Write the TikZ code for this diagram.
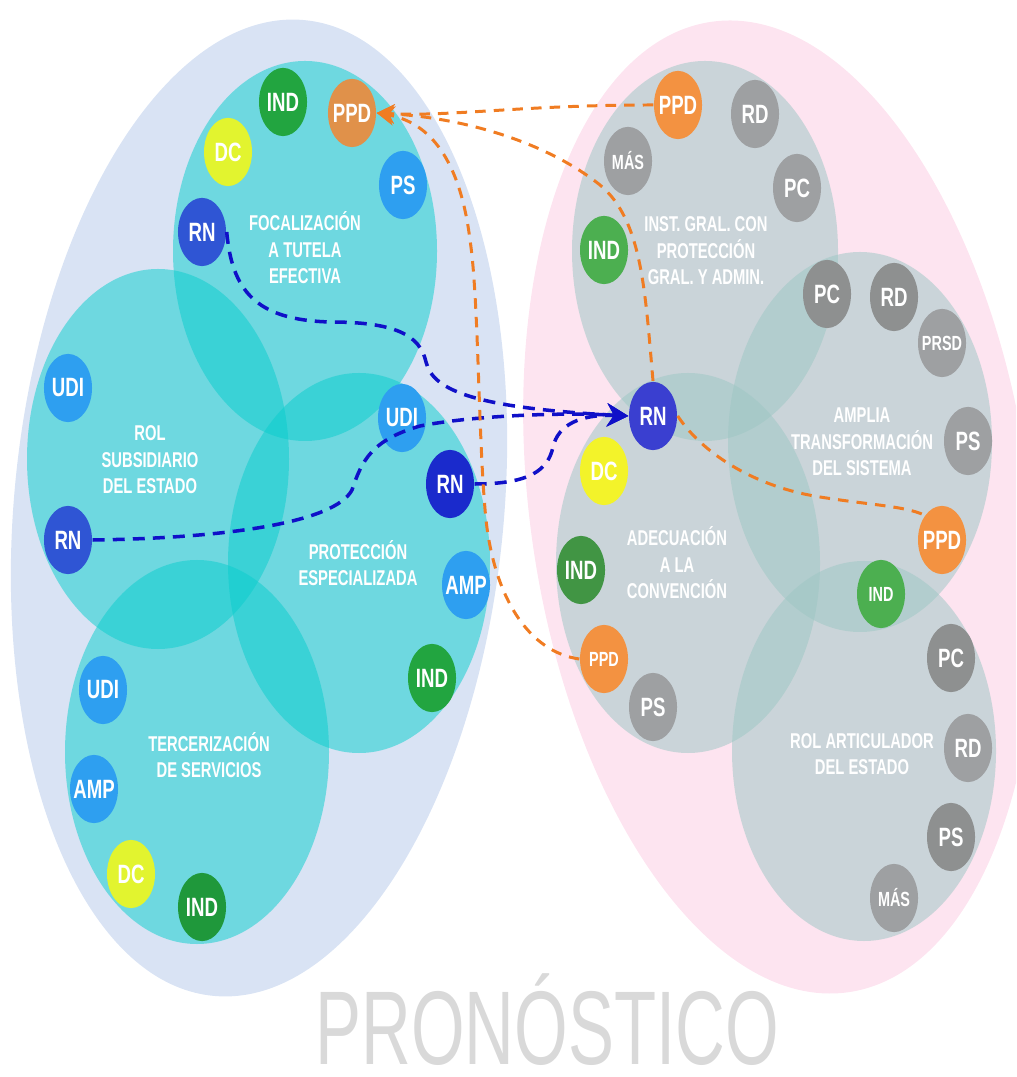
\documentclass[tikz,border=0pt]{standalone}
\usepackage{fontspec}
\setmainfont{Liberation Sans}
\usetikzlibrary{arrows.meta}

\definecolor{bgleft}{HTML}{D9E3F4}
\definecolor{bgright}{HTML}{FDE4F0}
\definecolor{setcyan}{RGB}{9,206,205}
\definecolor{setgray}{RGB}{157,199,196}
\definecolor{greenL}{HTML}{22A540}
\definecolor{greenR}{HTML}{4CAF50}
\definecolor{ppdL}{HTML}{E0914A}
\definecolor{ppdR}{HTML}{F39241}
\definecolor{dcL}{HTML}{E2F42F}
\definecolor{dcR}{HTML}{F3F32A}
\definecolor{udiblue}{HTML}{2E9FF0}
\definecolor{rnL}{HTML}{2F55D4}
\definecolor{rnP}{HTML}{1A2ACC}
\definecolor{rnC}{HTML}{3A3FD0}
\definecolor{grayD}{HTML}{8E9090}
\definecolor{grayL}{HTML}{9EA0A2}
\definecolor{linkblue}{HTML}{1010C8}
\definecolor{linkorange}{HTML}{F07C22}

\begin{document}
\begin{tikzpicture}[x=0.01cm, y=-0.01cm,
        cyanset/.style={fill=setcyan, fill opacity=0.51},
        grayset/.style={fill=setgray, fill opacity=0.52},
        dot/.style={circle, minimum size=0.48cm, inner sep=0pt, text=white,
                font=\fontsize{5.3}{6}\selectfont\bfseries, yscale=1.42},
        smalldot/.style={dot, font=\fontsize{4.1}{5}\selectfont\bfseries},
        setlabel/.style={text=white, align=center,
                font=\fontsize{4.2}{5.2}\selectfont\bfseries, yscale=1.45},
        bluelink/.style={draw=linkblue, line width=1pt, dash pattern=on 3.4pt off 2.3pt,
                -{Stealth[length=6pt,width=6.5pt]}},
        orangelink/.style={draw=linkorange, line width=0.85pt, dash pattern=on 3pt off 2.3pt}]
        \clip (0,0) rectangle (1016,1077);

        \fill[bgleft, rotate around={-5.3:(259,508)}] (259,508) ellipse [x radius=245, y radius=490];
        \fill[bgright, rotate around={8:(780,507)}] (780,507) ellipse [x radius=250, y radius=490];

        \fill[cyanset] (305,251) ellipse [x radius=132, y radius=190];
        \fill[cyanset] (158,459) ellipse [x radius=131, y radius=190];
        \fill[cyanset] (359,563) ellipse [x radius=131, y radius=190];
        \fill[cyanset] (197,752) ellipse [x radius=132, y radius=192];

        \fill[grayset] (705,251) ellipse [x radius=133, y radius=190];
        \fill[grayset] (860,442) ellipse [x radius=132, y radius=190];
        \fill[grayset] (688,563) ellipse [x radius=132, y radius=190];
        \fill[grayset] (864,751) ellipse [x radius=132, y radius=190];

        \node[setlabel] (focLbl) at (305,248) {FOCALIZACIÓN\\A TUTELA\\EFECTIVA};
        \node[setlabel] (subLbl) at (150,460) {ROL\\SUBSIDIARIO\\DEL ESTADO};
        \node[setlabel] (espLbl) at (358,563) {PROTECCIÓN\\ESPECIALIZADA};
        \node[setlabel] (terLbl) at (209,755) {TERCERIZACIÓN\\DE SERVICIOS};
        \node[setlabel] (instLbl) at (706,251) {INST. GRAL. CON\\PROTECCIÓN\\GRAL. Y ADMIN.};
        \node[setlabel] (ampLbl) at (862,442) {AMPLIA\\TRANSFORMACIÓN\\DEL SISTEMA};
        \node[setlabel] (adeLbl) at (677,563) {ADECUACIÓN\\A LA\\CONVENCIÓN};
        \node[setlabel] (artLbl) at (862,754) {ROL ARTICULADOR\\DEL ESTADO};

        \node[dot, fill=greenL] (indFoc) at (283,102) {IND};
        \node[dot, fill=ppdL] (ppdFoc) at (352,113) {PPD};
        \node[dot, fill=dcL] (dcFoc) at (228,152) {DC};
        \node[dot, fill=udiblue] (psFoc) at (403,185) {PS};
        \node[dot, fill=rnL] (rnFoc) at (202,232) {RN};

        \node[dot, fill=udiblue] (udiSub) at (68,388) {UDI};
        \node[dot, fill=rnL] (rnSub) at (68,540) {RN};

        \node[dot, fill=udiblue] (udiEsp) at (402,418) {UDI};
        \node[dot, fill=rnP] (rnEsp) at (450,484) {RN};
        \node[dot, fill=udiblue] (ampEsp) at (466,585) {AMP};
        \node[dot, fill=greenL] (indEsp) at (432,678) {IND};

        \node[dot, fill=udiblue] (udiTer) at (103,690) {UDI};
        \node[dot, fill=udiblue] (ampTer) at (94,789) {AMP};
        \node[dot, fill=dcL] (dcTer) at (131,874) {DC};
        \node[dot, fill=greenL!92!black] (indTer) at (202,907) {IND};

        \node[dot, fill=ppdR] (ppdInst) at (678,105) {PPD};
        \node[dot, fill=grayL] (rdInst) at (755,114) {RD};
        \node[smalldot, fill=grayL] (masInst) at (628,161) {MÁS};
        \node[dot, fill=grayL] (pcInst) at (797,188) {PC};
        \node[dot, fill=greenR] (indInst) at (604,250) {IND};

        \node[dot, fill=grayD] (pcAmp) at (827,294) {PC};
        \node[dot, fill=grayD] (rdAmp) at (894,297) {RD};
        \node[smalldot, fill=grayL] (prsdAmp) at (942,343) {PRSD};
        \node[dot, fill=grayL] (psAmp) at (968,441) {PS};
        \node[dot, fill=ppdR] (ppdAmp) at (942,540) {PPD};
        \node[smalldot, fill=greenR] (indAmp) at (881,594) {IND};

        \node[dot, fill=rnC] (rnCen) at (653,416) {RN};

        \node[dot, fill=dcR] (dcAde) at (604,471) {DC};
        \node[dot, fill=greenR!85!black] (indAde) at (581,570) {IND};
        \node[smalldot, fill=ppdR] (ppdAde) at (604,659) {PPD};
        \node[dot, fill=grayL] (psAde) at (653,707) {PS};

        \node[dot, fill=grayD] (pcArt) at (951,658) {PC};
        \node[dot, fill=grayL] (rdArt) at (968,748) {RD};
        \node[dot, fill=grayD] (psArt) at (951,837) {PS};
        \node[smalldot, fill=grayL] (masArt) at (894,898) {MÁS};

        \draw[bluelink] (rnFoc.east) .. controls (232,290) and (255,320) .. (330,322)
                .. controls (395,322) and (420,335) .. (426,362)
                .. controls (433,392) and (480,408) .. (rnCen.west);
        \draw[bluelink] (rnSub.east) .. controls (230,538) and (335,522) .. (352,490)
                .. controls (362,460) and (372,440) .. (420,426)
                .. controls (470,416) and (560,412) .. (rnCen.west);
        \draw[bluelink] (rnEsp.east) .. controls (530,484) and (548,470) .. (553,447)
                .. controls (558,425) and (580,414) .. (rnCen.west);

        \draw[orangelink, -{Stealth[length=5pt,width=5.5pt]}] (ppdInst.west)
                .. controls (520,105) and (450,117) .. (ppdFoc.east);
        \draw[orangelink, -{Stealth[length=5pt,width=5.5pt]}] (rnCen.north)
                .. controls (645,290) and (642,220) .. (600,185)
                .. controls (550,145) and (470,118) .. (ppdFoc.east);
        \draw[orangelink, -{Stealth[length=5pt,width=5.5pt]}] (ppdAde.west)
                .. controls (530,652) and (495,600) .. (486,520)
                .. controls (478,440) and (479,300) .. (470,240)
                .. controls (460,160) and (430,122) .. (ppdFoc.east);
        \draw[orangelink] (rnCen.east) .. controls (700,450) and (750,486) .. (820,497)
                .. controls (870,505) and (905,506) .. (ppdAmp.north west);

        \node[font=\fontsize{19.6}{20}\selectfont, text=black!15, yscale=1.52, inner sep=0pt, anchor=base] (title) at (547,1064) {PRONÓSTICO};
\end{tikzpicture}
\end{document}
